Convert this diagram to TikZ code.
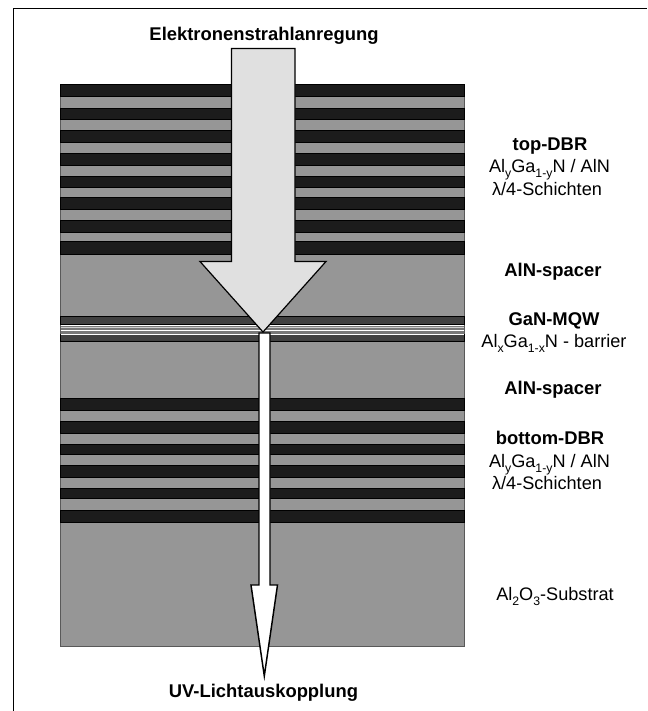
\documentclass[tikz,border=0pt]{standalone}
\usepackage{fontspec}
\setmainfont{Liberation Sans}
\definecolor{layergray}{HTML}{969696}
\definecolor{banddark}{HTML}{1C1C1C}
\definecolor{mqwdark}{HTML}{404040}
\definecolor{beam}{HTML}{E0E0E0}
\newcommand{\lowtxt}[1]{\raisebox{-0.3em}{\fontsize{9.2pt}{10pt}\selectfont #1}}
\tikzset{
  lbl/.style={inner sep=0pt,anchor=base,font=\fontsize{13.6pt}{16pt}\selectfont},
  lblb/.style={lbl,font=\fontsize{13.8pt}{16pt}\selectfont\bfseries},
  band/.style={fill=banddark,draw=black,line width=0.6pt},
  mqw/.style={fill=mqwdark,draw=black,line width=0.4pt},
  beamline/.style={draw=black,line width=0.9pt,line join=miter,miter limit=20},
}
\begin{document}
\begin{tikzpicture}[x=0.75pt,y=-0.75pt]
\useasboundingbox (0,0) rectangle (647,711);
\fill[white] (0,0) rectangle (647,711);
\draw[line width=1pt] (13.5,711) -- (13.5,8.5) -- (647,8.5);
% stack
\draw[fill=layergray,draw=black!65,line width=0.7pt] (60.5,84.5) rectangle (464,646);
\foreach \a/\b in {84.5/96.5,108/119,130.5/142,153/165,176/187,197.5/209.5,220.5/232,241.5/254,398/410,421.5/433,444/454.5,465.5/477,488.5/498.5,510.5/522}
  \draw[band] (60.5,\a) rectangle (464,\b);
% MQW
\fill[layergray!80!black] (60.5,324) rectangle (464,335);
\draw[mqw] (60.5,316.5) rectangle (464,324);
\draw[mqw] (60.5,334.5) rectangle (464,341);
\foreach \y in {325,330,334}
  \draw[white,line width=0.6pt] (60.5,\y) -- (464,\y);
\draw[white!80!black,line width=0.5pt] (60.5,327.5) -- (464,327.5);
% arrows
\draw[beamline,fill=beam] (231.5,48.5) -- (295,48.5) -- (295,261.5) -- (326,261.5) -- (263,332) -- (200,261.5) -- (231.5,261.5) -- cycle;
\draw[beamline,line width=1.1pt,fill=white] (259,333) -- (270,333) -- (270,585) -- (277.5,585) -- (264.3,676) -- (251,585) -- (259,585) -- cycle;
% labels
\node[lblb] (beamin) at (264,40) {Elektronenstrahlanregung};
\node[lblb] (beamout) at (263.5,697.6) {UV-Lichtauskopplung};
\node[lblb] (topdbr) at (550,150) {top-DBR};
\node[lbl] (topmat) at (549.5,172) {Al\lowtxt{y}Ga\lowtxt{1-y}N / AlN};
\node[lbl] (toplam) at (547,195) {λ/4-Schichten};
\node[lblb] (spacera) at (553,276) {AlN-spacer};
\node[lblb] (mqwname) at (554,325) {GaN-MQW};
\node[lbl] (mqwbar) at (554,347) {Al\lowtxt{x}Ga\lowtxt{1-x}N - barrier};
\node[lblb] (spacerb) at (553,394) {AlN-spacer};
\node[lblb] (botdbr) at (550,444) {bottom-DBR};
\node[lbl] (botmat) at (549.5,467) {Al\lowtxt{y}Ga\lowtxt{1-y}N / AlN};
\node[lbl] (botlam) at (547,489) {λ/4-Schichten};
\node[lbl] (subst) at (555,600) {Al\lowtxt{2}O\lowtxt{3}-Substrat};
\end{tikzpicture}
\end{document}
